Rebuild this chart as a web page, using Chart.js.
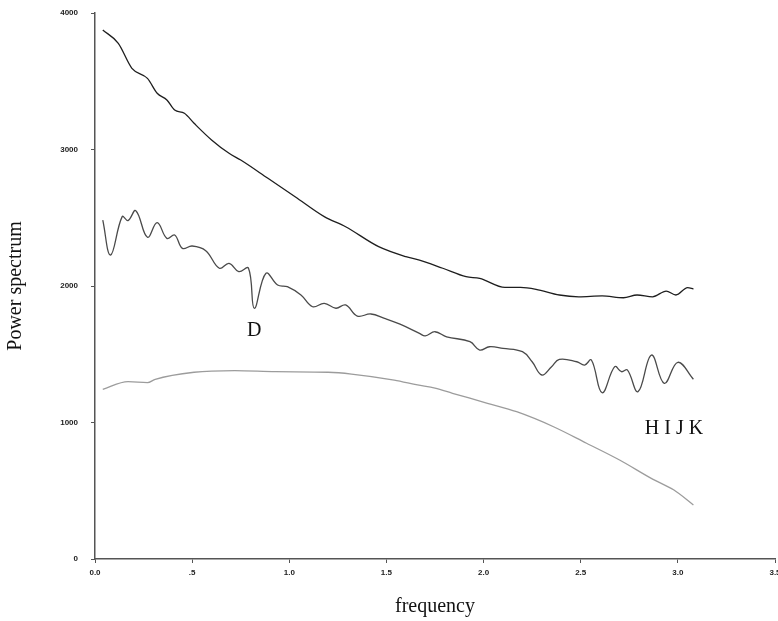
<!DOCTYPE html>
<html>
<head>
<meta charset="utf-8">
<title>Power spectrum</title>
<script src="https://cdn.jsdelivr.net/npm/chart.js@4/dist/chart.umd.min.js"></script>
<style>
    body { margin: 0; background: #fff; }
    .grafico { position: relative; width: 778px; height: 621px; }
</style>
</head>
<body>
<div class="grafico"><canvas id="espectroGrafico"></canvas></div>
<script>
// Valores (frequência x potência)
const topFreq = [0.04, 0.12, 0.19, 0.27, 0.32, 0.37, 0.41, 0.46, 0.51, 0.60, 0.69, 0.75, 0.89, 1.03, 1.18, 1.29, 1.46, 1.60, 1.67, 1.79, 1.91, 1.98, 2.11, 2.19, 2.27, 2.39, 2.49, 2.61, 2.72, 2.79, 2.87, 2.94, 2.99, 3.05, 3.08];
const topPower = [3875, 3778, 3595, 3521, 3412, 3363, 3289, 3265, 3192, 3070, 2972, 2923, 2789, 2654, 2508, 2434, 2288, 2215, 2190, 2130, 2068, 2056, 1990, 1990, 1976, 1934, 1921, 1927, 1914, 1934, 1921, 1963, 1934, 1988, 1978];

const midFreq = [0.04, 0.08, 0.14, 0.17, 0.21, 0.27, 0.32, 0.37, 0.41, 0.45, 0.50, 0.57, 0.64, 0.69, 0.74, 0.79, 0.82, 0.88, 0.94, 0.99, 1.06, 1.12, 1.18, 1.24, 1.29, 1.35, 1.42, 1.49, 1.57, 1.67, 1.70, 1.75, 1.81, 1.93, 1.98, 2.03, 2.10, 2.20, 2.25, 2.30, 2.35, 2.39, 2.48, 2.52, 2.555, 2.61, 2.675, 2.71, 2.74, 2.795, 2.864, 2.93, 3.00, 3.08];
const midPower = [2483, 2227, 2508, 2479, 2552, 2357, 2464, 2349, 2374, 2276, 2293, 2259, 2130, 2166, 2105, 2130, 1837, 2093, 2007, 1995, 1934, 1848, 1873, 1837, 1861, 1780, 1795, 1763, 1720, 1653, 1634, 1665, 1628, 1592, 1531, 1555, 1543, 1519, 1445, 1348, 1409, 1463, 1445, 1421, 1458, 1218, 1409, 1372, 1385, 1226, 1494, 1287, 1441, 1317];

const lowFreq = [0.04, 0.17, 0.27, 0.31, 0.51, 0.72, 0.93, 1.20, 1.32, 1.54, 1.66, 1.75, 1.84, 2.02, 2.17, 2.36, 2.53, 2.70, 2.87, 2.98, 3.08];
const lowPower = [1243, 1299, 1292, 1316, 1368, 1380, 1372, 1368, 1355, 1311, 1275, 1251, 1214, 1141, 1079, 969, 848, 725, 585, 505, 396];

const xTickLabels = ['0.0', '.5', '1.0', '1.5', '2.0', '2.5', '3.0', '3.5'];
const yTickLabels = ['0', '1000', '2000', '3000', '4000'];

// Rótulos escritos dentro do gráfico (texto, frequência, potência)
const notasTexto = ['D', 'H I J K'];
const notasFreq = [0.82, 2.98];
const notasPower = [1670, 952];

document.addEventListener('DOMContentLoaded', function () {
    const ctx = document.getElementById('espectroGrafico').getContext('2d');

    // Junta os arrays em pontos {x, y}
    function pontos(freq, power) {
        return freq.map(function (f, i) { return { x: f, y: power[i] }; });
    }

    // Plugin simples para escrever as letras D e HIJK
    const notasPlugin = {
        id: 'notas',
        afterDatasetsDraw: function (chart) {
            const c = chart.ctx;
            c.save();
            c.fillStyle = '#111';
            c.font = '20px "Liberation Serif", "Times New Roman", serif';
            c.textAlign = 'center';
            c.textBaseline = 'middle';
            notasTexto.forEach(function (txt, i) {
                const px = chart.scales.x.getPixelForValue(notasFreq[i]);
                const py = chart.scales.y.getPixelForValue(notasPower[i]);
                c.fillText(txt, px, py);
            });
            c.restore();
        }
    };

    const tickFont = { family: '"Liberation Sans", Arial, sans-serif', size: 8, weight: 'bold' };
    const titleFont = { family: '"Liberation Serif", "Times New Roman", serif', size: 20 };

    new Chart(ctx, {
        type: 'line',
        data: {
            datasets: [
                { data: pontos(topFreq, topPower), borderColor: '#1e1e1e', borderWidth: 1.3, cubicInterpolationMode: 'monotone' },
                { data: pontos(midFreq, midPower), borderColor: '#4a4a4a', borderWidth: 1.3, tension: 0.4 },
                { data: pontos(lowFreq, lowPower), borderColor: '#9c9c9c', borderWidth: 1.3, cubicInterpolationMode: 'monotone' }
            ]
        },
        options: {
            responsive: true,
            maintainAspectRatio: false,
            animation: false,
            layout: { padding: { top: 13, right: 3, left: 0, bottom: 0 } },
            elements: {
                point: { radius: 0 },
                line: { fill: false }
            },
            plugins: {
                legend: { display: false },
                tooltip: { enabled: false }
            },
            scales: {
                x: {
                    type: 'linear',
                    min: 0,
                    max: 3.5,
                    afterFit: function (scale) {
                        scale.height = 62;
                        scale.paddingLeft = 0;
                        scale.paddingRight = 0;
                    },
                    afterBuildTicks: function (scale) {
                        scale.ticks = xTickLabels.map(function (t, i) { return { value: i * 0.5 }; });
                    },
                    ticks: {
                        color: '#222',
                        font: tickFont,
                        padding: 5,
                        maxRotation: 0,
                        callback: function (v, i) { return xTickLabels[i]; }
                    },
                    grid: { drawOnChartArea: false, drawTicks: true, tickLength: 4, color: '#555' },
                    border: { display: true, color: '#555', width: 1.5 },
                    title: { display: true, text: 'frequency', color: '#111', font: titleFont, padding: { top: 0, bottom: 2 } }
                },
                y: {
                    min: 0,
                    max: 4000,
                    afterFit: function (scale) {
                        scale.width = 95;
                        scale.paddingTop = 0;
                        scale.paddingBottom = 0;
                    },
                    ticks: {
                        stepSize: 1000,
                        color: '#222',
                        font: tickFont,
                        padding: 13,
                        callback: function (v, i) { return yTickLabels[i]; }
                    },
                    grid: { drawOnChartArea: false, drawTicks: true, tickLength: 4, color: '#555' },
                    border: { display: true, color: '#555', width: 1.5 },
                    title: { display: true, text: 'Power spectrum', color: '#111', font: titleFont, padding: { top: 4, bottom: 0 } }
                }
            }
        },
        plugins: [notasPlugin]
    });
});
</script>
</body>
</html>
